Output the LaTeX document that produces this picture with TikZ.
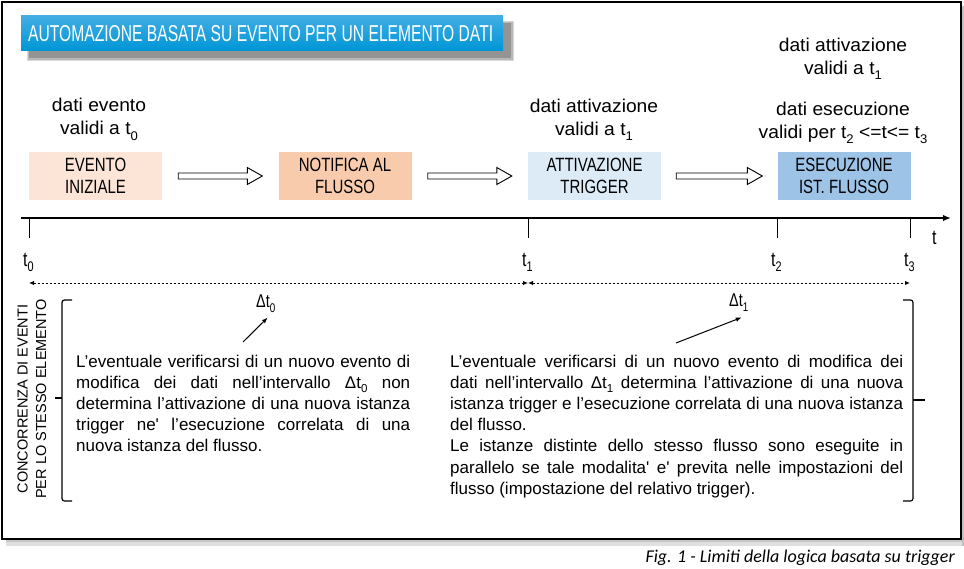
\documentclass[tikz,border=0pt]{standalone}
\usepackage{fontspec}
\setmainfont{Liberation Sans}
\newfontfamily\bodyf{Liberation Sans}
\newfontfamily\labf[FakeStretch=1.04]{Liberation Sans}
\newfontfamily\narrowf[FakeStretch=0.78]{Liberation Sans}
\newfontfamily\titlef[FakeStretch=0.68]{Liberation Sans}
\newfontfamily\capf{Carlito}
\usetikzlibrary{arrows.meta,calc}
\definecolor{boxA}{HTML}{FCE4D6}
\definecolor{boxB}{HTML}{F8CBAD}
\definecolor{boxC}{HTML}{DDEBF7}
\definecolor{boxD}{HTML}{9DC3E6}
\definecolor{titletop}{HTML}{45AEE3}
\definecolor{titlebot}{HTML}{0096D6}
\newcommand{\mysub}[1]{\raisebox{-0.28em}{\scalebox{0.68}{#1}}}
\newcommand{\nohyph}{\hyphenpenalty=10000\relax\exhyphenpenalty=10000\relax}
\tikzset{
  evbox/.style={minimum width=133, minimum height=48, inner sep=0, align=center,
    font=\narrowf\fontsize{19.2}{22}\selectfont},
  uplabel/.style={anchor=north, inner sep=0, align=center,
    font=\labf\fontsize{18.5}{23}\selectfont},
  bodytext/.style={anchor=north west, inner sep=0, align=justify,
    font=\bodyf\fontsize{17}{21.2}\selectfont\nohyph},
  ticklabel/.style={anchor=base west, inner sep=0, font=\narrowf\fontsize{20.5}{22}\selectfont},
  dtlabel/.style={anchor=base west, inner sep=0, font=\narrowf\fontsize{18.5}{20}\selectfont},
  hollowarrow/.style={draw=black, line width=0.9pt, fill=white,
    to path={let \p1=(\tikztostart), \p2=(\tikztotarget) in
      (\x1,\y1+3) -- (\x2-15,\y1+3) -- (\x2-15,\y1+8.5) -- (\x2,\y1) --
      (\x2-15,\y1-8.5) -- (\x2-15,\y1-3) -- (\x1,\y1-3) -- cycle}},
  tick/.style={line width=0.7pt},
  span/.style={line width=1pt, dash pattern=on 2.5pt off 1.5pt,
    {Latex[length=5pt,width=4.5pt]}-{Latex[length=5pt,width=4.5pt]}},
  pointer/.style={line width=1pt, -{Latex[length=6pt,width=4.5pt]}},
  bracket/.style={line width=1.2pt, rounded corners=2.5pt},
}
\begin{document}
\begin{tikzpicture}[x=1pt,y=-1pt]
\useasboundingbox (0,0) rectangle (964,568);
% frame and its shadow
\fill[black!12] (6,539) rectangle (964,546);
\fill[black!22] (6,539) rectangle (964,542);
\fill[black!25] (961.5,6) rectangle (964,546);
\draw[line width=1.3pt] (2,2) rectangle (961,539);

% title
\fill[black!15] (27,21) rectangle (514,61);
\fill[black!28] (28,22) rectangle (513,60);
\fill[black!42] (29,23) rectangle (511,58);
\shade[top color=titletop, bottom color=titlebot] (21,15) rectangle (503,50);
\node (title) [anchor=base west, inner sep=0, text=white,
  font=\titlef\fontsize{23}{24}\selectfont] at (28,41)
  {AUTOMAZIONE BASATA SU EVENTO PER UN ELEMENTO DATI};

% boxes
\node (b1) [evbox, fill=boxA] at (95.5,176) {EVENTO\\INIZIALE};
\node (b2) [evbox, fill=boxB] at (345,176) {NOTIFICA AL\\FLUSSO};
\node (b3) [evbox, fill=boxC] at (594.5,176) {ATTIVAZIONE\\TRIGGER};
\node (b4) [evbox, fill=boxD] at (844,176) {ESECUZIONE\\IST. FLUSSO};

\draw[hollowarrow] ($(b1.east)+(16,0)$) to ($(b2.west)+(-16,0)$);
\draw[hollowarrow] ($(b2.east)+(16,0)$) to ($(b3.west)+(-16,0)$);
\draw[hollowarrow] ($(b3.east)+(15,0)$) to ($(b4.west)+(-15,0)$);

% labels above boxes
\node (l1) [uplabel] at (99,98.3) {dati evento\\validi a t\mysub{0}};
\node (l2) [uplabel] at (594,98.4) {dati attivazione\\validi a t\mysub{1}};
\node (l3) [uplabel] at (843,37.4) {dati attivazione\\validi a t\mysub{1}};
\node (l4) [uplabel] at (843,101.7) {dati esecuzione\\validi per t\mysub{2} <=t<= t\mysub{3}};

% time axis
\coordinate (ax0) at (21,218);
\coordinate (ax1) at (951,218);
\draw[line width=2pt, -{Latex[length=8pt,width=6.5pt]}] (ax0) -- (ax1);
\node (tt) [ticklabel] at (932,244) {t};
\foreach \n/\x/\s in {0/29/0,1/528/1,2/777/2,3/910/3}{
  \coordinate (tk\n a) at (\x,219);
  \coordinate (tk\n b) at (\x,238);
  \draw[tick] (tk\n a) -- (tk\n b);
  \node (tl\n) [ticklabel] at (\x-6,266) {t\mysub{\s}};
  \coordinate (sp\n) at (\x,283);
}
\draw[span] (sp0) -- (sp1);
\draw[span] (sp1) -- (sp3);

% side label and brackets
\node (side) [rotate=90, align=center, inner sep=0,
  font=\bodyf\fontsize{14.5}{18.5}\selectfont] at (32,399)
  {CONCORRENZA DI EVENTI\\PER LO STESSO ELEMENTO};
\coordinate (lbA) at (72,300);
\coordinate (lbB) at (62,300);
\coordinate (lbC) at (62,501);
\coordinate (lbD) at (72,501);
\coordinate (lbM) at (62,398);
\coordinate (lbT) at (55,398);
\draw[bracket] (lbA) -- (lbB) -- (lbC) -- (lbD);
\draw[line width=1.2pt] (lbM) -- (lbT);
\coordinate (rbA) at (903,300);
\coordinate (rbB) at (913,300);
\coordinate (rbC) at (913,501);
\coordinate (rbD) at (903,501);
\coordinate (rbM) at (913,400);
\coordinate (rbT) at (925,400);
\draw[bracket] (rbA) -- (rbB) -- (rbC) -- (rbD);
\draw[line width=1.2pt] (rbM) -- (rbT);

% delta labels with pointers
\node (dt0) [dtlabel] at (256,307) {Δt\mysub{0}};
\node (dt1) [dtlabel] at (729,306) {Δt\mysub{1}};
\coordinate (p0) at (243,342);
\coordinate (p1) at (676,343);
\draw[pointer] (p0) -- ($(dt0.south)+(2,5)$);
\draw[pointer] (p1) -- ($(dt1.south)+(3,6)$);

% texts
\node (txl) [bodytext, text width=334] at (76,354.5) {%
L’eventuale verificarsi di un nuovo evento di\linebreak
modifica dei dati nell’intervallo Δt\mysub{0} non\linebreak
determina l’attivazione di una nuova istanza\linebreak
trigger ne' l’esecuzione correlata di una\linebreak
nuova istanza del flusso.};
\node (txr) [bodytext, text width=453] at (450,354.5) {%
L’eventuale verificarsi di un nuovo evento di modifica dei\linebreak
dati nell’intervallo Δt\mysub{1} determina l’attivazione di una nuova\linebreak
istanza trigger e l’esecuzione correlata di una nuova istanza\linebreak
del flusso.\par
Le istanze distinte dello stesso flusso sono eseguite in\linebreak
parallelo se tale modalita' e' previta nelle impostazioni del\linebreak
flusso (impostazione del relativo trigger).};

% caption
\node (cap) [anchor=base east, inner sep=0, font=\capf\itshape\fontsize{18}{20}\selectfont]
  at (955,562) {Fig. 1 - Limiti della logica basata su trigger};
\end{tikzpicture}
\end{document}
